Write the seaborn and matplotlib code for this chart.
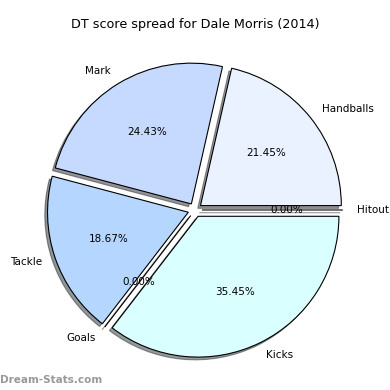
import matplotlib
matplotlib.use("Agg")
import matplotlib.pyplot as plt
import seaborn as sns

labels = ["Handballs", "Mark", "Tackle", "Goals", "Kicks", "Hitout"]
shares = [21.45, 24.43, 18.67, 0.0, 35.45, 0.0]
colours = ["#eaf1ff", "#c6d9ff", "#b5d6ff", "#b5d6ff", "#d9ffff", "#eaf1ff"]


def makeplot():
    sns.set_style("white")
    plt.rcParams["font.family"] = ["DejaVu Sans"]
    plt.rcParams["text.color"] = "black"
    fig = plt.figure(figsize=(3.9, 3.9), dpi=100)
    ax = fig.add_axes([0.0487, 0.0103, 0.9026, 0.9026])

    pal = sns.color_palette(colours)
    ax.pie(shares,
           labels=labels,
           colors=pal,
           explode=[0.05] * len(shares),
           autopct="%1.2f%%",
           startangle=0,
           shadow={"ox": -0.014, "oy": -0.014, "shade": 0.8},
           wedgeprops={"edgecolor": "black", "linewidth": 0.8},
           textprops={"fontsize": 7.5, "color": "black"})
    ax.set_xlim(-1.25, 1.25)
    ax.set_ylim(-1.25, 1.25)
    ax.set_aspect("equal")
    ax.axis("off")

    fig.text(0.5, 0.936, "DT score spread for Dale Morris (2014)",
             ha="center", va="center", fontsize=9.2, color="black")
    fig.text(0.0, 0.025, "Dream-Stats.com", ha="left", va="center",
             fontsize=7.5, color="#999999", fontweight="bold")
    return fig


if __name__ == "__main__":
    fig = makeplot()
    fig.savefig("out.png", dpi=100)
